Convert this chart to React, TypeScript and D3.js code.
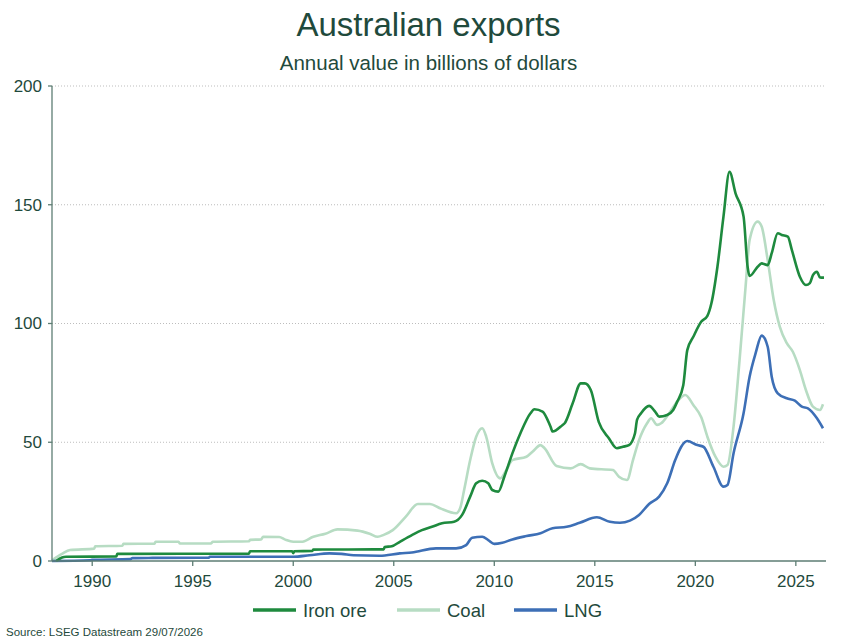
import React from "react";
import * as d3 from "d3";

// [year, A$bn annual value]
const ironOre: [number, number][] = [
  [1988.2, 0], [1988.5, 1.5], [1988.7, 1.8], [1991.2, 1.9], [1991.25, 3.0],
  [1997.8, 3.1], [1997.85, 4.1], [1999.95, 4.1], [2000.0, 3.3], [2000.05, 4.1],
  [2000.95, 4.2], [2001.0, 4.8], [2004.5, 4.9], [2004.55, 5.9], [2004.9, 6.2],
  [2005.3, 8.1], [2005.9, 10.9], [2006.4, 13.0], [2006.9, 14.4], [2007.4, 15.9],
  [2008.0, 16.5], [2008.4, 19.4], [2008.8, 27.1], [2009.1, 32.7], [2009.4, 33.8],
  [2009.7, 32.7], [2009.9, 29.9], [2010.2, 29.2], [2010.5, 35.5], [2010.9, 45.3],
  [2011.3, 53.8], [2011.8, 62.2], [2012.0, 63.9], [2012.4, 62.9], [2012.8, 56.5],
  [2012.9, 54.5], [2013.4, 57.3], [2013.5, 58.0], [2013.9, 66.4], [2014.3, 74.8],
  [2014.5, 74.8], [2014.8, 72.0], [2015.2, 58.5], [2015.7, 51.7], [2016.1, 47.5],
  [2016.4, 48.1], [2016.7, 48.8], [2017.0, 53.8], [2017.1, 59.4], [2017.3, 62.2],
  [2017.7, 65.3], [2018.0, 62.9], [2018.2, 60.8], [2018.6, 61.5], [2018.9, 63.6],
  [2019.1, 67.1], [2019.4, 74.0], [2019.6, 88.8], [2019.9, 94.4], [2020.3, 100.8],
  [2020.6, 103.2], [2020.8, 108.5], [2021.1, 123.9], [2021.4, 145.0], [2021.7, 163.9],
  [2022.0, 154.8], [2022.4, 145.0], [2022.6, 123.9], [2022.7, 120.0], [2023.1, 123.9],
  [2023.3, 125.3], [2023.6, 124.6], [2023.8, 129.6], [2024.1, 138.0], [2024.3, 137.3],
  [2024.6, 136.6], [2024.8, 131.0], [2025.2, 119.7], [2025.5, 116.2], [2025.7, 117.0],
  [2025.85, 120.4], [2026.05, 121.8], [2026.2, 119.4], [2026.4, 119.3],
];

const coal: [number, number][] = [
  [1988.0, 0.3], [1988.5, 3.0], [1988.9, 4.6], [1990.1, 5.2], [1990.15, 6.2],
  [1991.5, 6.4], [1991.55, 7.2], [1993.1, 7.3], [1993.15, 8.1], [1994.3, 8.1],
  [1994.35, 7.4], [1995.9, 7.4], [1996.0, 8.1], [1997.8, 8.3], [1997.85, 8.9],
  [1998.4, 9.1], [1998.5, 10.2], [1999.3, 10.1], [1999.6, 9.0], [2000.0, 8.1],
  [2000.4, 8.1], [2001.0, 10.2], [2001.6, 11.5], [2002.2, 13.3], [2003.2, 12.8],
  [2003.8, 11.5], [2004.2, 10.2], [2004.5, 11.0], [2004.95, 13.0], [2005.6, 18.7],
  [2006.2, 24.0], [2006.8, 24.0], [2007.3, 22.2], [2008.1, 20.1], [2008.3, 22.2],
  [2008.5, 29.9], [2008.8, 42.5], [2009.1, 52.3], [2009.4, 55.9], [2009.6, 52.3],
  [2009.9, 41.1], [2010.3, 34.8], [2010.6, 38.3], [2010.9, 42.5], [2011.6, 43.9],
  [2011.9, 46.0], [2012.3, 48.8], [2012.5, 47.5], [2013.1, 40.0], [2013.8, 39.0],
  [2014.3, 40.8], [2014.75, 39.0], [2015.9, 38.3], [2016.2, 35.5], [2016.6, 34.1],
  [2016.9, 42.5], [2017.2, 50.9], [2017.6, 58.0], [2017.8, 60.1], [2018.1, 57.3],
  [2018.3, 58.0], [2018.7, 62.2], [2019.1, 67.1], [2019.5, 69.9], [2019.9, 65.7],
  [2020.3, 60.4], [2020.6, 52.3], [2021.0, 43.9], [2021.4, 39.7], [2021.6, 40.4],
  [2021.9, 56.5], [2022.2, 84.6], [2022.5, 115.5], [2022.7, 135.2], [2023.1, 142.9],
  [2023.3, 140.8], [2023.6, 126.7], [2023.9, 109.9], [2024.2, 98.7], [2024.55, 91.7],
  [2024.85, 88.1], [2025.2, 80.4], [2025.5, 72.0], [2025.85, 65.0], [2026.2, 63.6],
  [2026.35, 66.0],
];

const lng: [number, number][] = [
  [1988.0, 0], [1989.9, 0.3], [1990.0, 0.5], [1991.9, 0.8], [1992.0, 1.2],
  [1993.0, 1.3], [1995.8, 1.4], [1995.85, 1.8], [2000.0, 1.8], [2000.8, 2.4],
  [2001.8, 3.2], [2002.4, 3.0], [2003.0, 2.4], [2004.3, 2.2], [2005.3, 3.2],
  [2005.9, 3.6], [2007.1, 5.3], [2008.1, 5.3], [2008.6, 6.7], [2008.9, 9.8],
  [2009.4, 10.2], [2009.7, 8.8], [2010.0, 7.2], [2010.4, 7.7], [2010.9, 9.1],
  [2011.6, 10.5], [2012.3, 11.7], [2012.9, 13.8], [2013.6, 14.4], [2014.25, 16.1],
  [2015.1, 18.4], [2015.75, 16.5], [2016.25, 16.1], [2016.75, 17.0], [2017.2, 19.4],
  [2017.7, 24.0], [2018.2, 27.1], [2018.6, 32.7], [2019.0, 42.5], [2019.3, 48.1],
  [2019.6, 50.5], [2020.1, 48.8], [2020.4, 48.1], [2020.9, 39.7], [2021.4, 31.3],
  [2021.6, 32.0], [2021.9, 45.3], [2022.4, 62.2], [2022.7, 77.6], [2023.0, 87.5],
  [2023.3, 94.9], [2023.6, 90.2], [2023.8, 77.6], [2024.1, 70.6], [2024.55, 68.5],
  [2024.95, 67.5], [2025.3, 65.0], [2025.6, 64.3], [2026.05, 60.1], [2026.35, 55.9],
];

const yTicks = [0, 50, 100, 150, 200];
const xTicks = [1990, 1995, 2000, 2005, 2010, 2015, 2020, 2025];

const seriesNames = ["Iron ore", "Coal", "LNG"];
const seriesColors = ["#1e8a3e", "#b7dcc3", "#3d6fb6"];

const W = 857;
const H = 643;
const M = { left: 52, right: 31, top: 86, bottom: 82 };
const textColor = "#1f4a3c";
const axisColor = "#5d7d73";
const font = "'Liberation Sans', Arial, sans-serif";

export default function App() {
  const x = d3.scaleLinear().domain([1988.0, 2026.5]).range([M.left, W - M.right]);
  const y = d3.scaleLinear().domain([0, 200]).range([H - M.bottom, M.top]);
  const line = d3
    .line<[number, number]>()
    .x((d) => x(d[0]))
    .y((d) => y(d[1]))
    .curve(d3.curveMonotoneX);

  const allSeries = [ironOre, coal, lng];
  // draw order: coal first, then LNG, then iron ore on top
  const drawOrder = [1, 2, 0];

  const legendItems = [
    { lx: 253, tx: 303 },
    { lx: 397, tx: 447 },
    { lx: 514, tx: 564 },
  ];

  return (
    <svg width={W} height={H} style={{ display: "block", position: "absolute", left: 0, top: 0, fontFamily: font }}>
      <rect width={W} height={H} fill="#fff" />
      <text x={W / 2} y={36} textAnchor="middle" fontSize={33} fill={textColor}>
        Australian exports
      </text>
      <text x={W / 2} y={70} textAnchor="middle" fontSize={20.5} fill={textColor}>
        Annual value in billions of dollars
      </text>

      {yTicks.slice(1).map((t) => (
        <line
          key={t}
          x1={M.left}
          x2={W - M.right}
          y1={y(t)}
          y2={y(t)}
          stroke="#bdbdbd"
          strokeDasharray="1,2"
        />
      ))}

      {drawOrder.map((i) => (
        <path
          key={seriesNames[i]}
          d={line(allSeries[i]) || ""}
          fill="none"
          stroke={seriesColors[i]}
          strokeWidth={2.6}
          strokeLinejoin="round"
        />
      ))}

      {/* y axis */}
      <line x1={M.left} x2={M.left} y1={M.top} y2={y(0)} stroke={axisColor} strokeWidth={1.3} />
      {yTicks.map((t) => (
        <g key={t} transform={`translate(0,${y(t)})`}>
          <line x1={M.left - 4} x2={M.left} stroke={axisColor} strokeWidth={1.3} />
          <text x={M.left - 10} dy="0.35em" textAnchor="end" fontSize={17} fill={textColor}>
            {t}
          </text>
        </g>
      ))}

      {/* x axis */}
      <line x1={M.left} x2={W - M.right} y1={y(0)} y2={y(0)} stroke={axisColor} strokeWidth={1.3} />
      {xTicks.map((t) => (
        <g key={t} transform={`translate(${x(t)},${y(0)})`}>
          <line y1={0} y2={5} stroke={axisColor} strokeWidth={1.3} />
          <text y={26} textAnchor="middle" fontSize={17} fill={textColor}>
            {t}
          </text>
        </g>
      ))}

      {/* legend */}
      {seriesNames.map((name, i) => (
        <g key={name}>
          <line
            x1={legendItems[i].lx}
            x2={legendItems[i].lx + 43}
            y1={610}
            y2={610}
            stroke={seriesColors[i]}
            strokeWidth={3.5}
          />
          <text x={legendItems[i].tx} y={617} fontSize={18.5} fill={textColor}>
            {name}
          </text>
        </g>
      ))}

      <text x={6} y={636} fontSize={11.5} fill={textColor}>
        Source: LSEG Datastream 29/07/2026
      </text>
    </svg>
  );
}
